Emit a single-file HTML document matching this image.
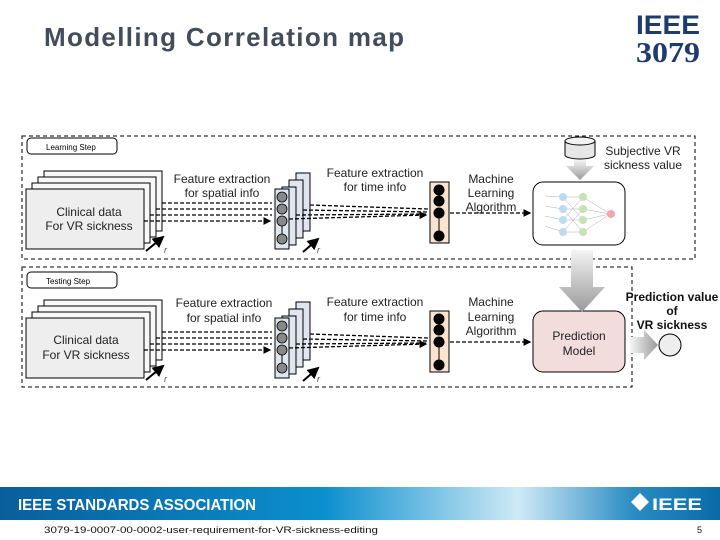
<!DOCTYPE html>
<html><head><meta charset="utf-8"><style>
html,body{margin:0;padding:0;background:#fff;}
svg{display:block;font-family:"Liberation Sans","DejaVu Sans",sans-serif;}
</style></head><body>
<svg width="720" height="540" viewBox="0 0 720 540" xmlns="http://www.w3.org/2000/svg">
<defs>
<linearGradient id="ban" x1="0" x2="1" y1="0" y2="0">
<stop offset="0" stop-color="#0a5e9c"/><stop offset="0.45" stop-color="#0b8fce"/><stop offset="0.72" stop-color="#cfeaf6"/><stop offset="0.88" stop-color="#2a8cc4"/><stop offset="1" stop-color="#0a6aa8"/>
</linearGradient>
<linearGradient id="gd" x1="0" x2="0" y1="0" y2="1"><stop offset="0" stop-color="#f4f4f4"/><stop offset="1" stop-color="#9a9a9a"/></linearGradient>
<linearGradient id="gr" x1="0" x2="1" y1="0" y2="0"><stop offset="0" stop-color="#f4f4f4"/><stop offset="1" stop-color="#9a9a9a"/></linearGradient>
<marker id="ah" markerWidth="6" markerHeight="6" refX="5" refY="3" orient="auto"><path d="M0,0 L6,3 L0,6z" fill="#000"/></marker>
<g id="row">
  <!-- clinical stack -->
  <rect x="44" y="171" width="118" height="60" fill="#f8f8f8" stroke="#000" stroke-width="1"/>
  <rect x="38" y="177" width="118" height="60" fill="#f8f8f8" stroke="#000" stroke-width="1"/>
  <rect x="32" y="183" width="118" height="60" fill="#f8f8f8" stroke="#000" stroke-width="1"/>
  <rect x="26" y="189" width="118" height="60" fill="#eeeeee" stroke="#000" stroke-width="1"/>
  <line x1="146" y1="251" x2="163" y2="237" stroke="#000" stroke-width="2" marker-end="url(#ah)"/>
  <text x="164" y="253" font-size="9" font-style="italic" fill="#555">r</text>
  <!-- dashed arrows -->
  <g stroke="#000" stroke-width="1.3" stroke-dasharray="4,2" fill="none">
    <line x1="162" y1="203" x2="272" y2="203"/>
    <line x1="156" y1="209" x2="272" y2="209"/>
    <line x1="150" y1="215" x2="272" y2="215"/>
    <line x1="144" y1="221" x2="270" y2="221" marker-end="url(#ah)"/>
  </g>
  <!-- middle stack -->
  <rect x="296" y="173" width="14" height="58" fill="#dfe6f0" stroke="#000"/>
  <rect x="289" y="180" width="14" height="58" fill="#dfe6f0" stroke="#000"/>
  <rect x="282" y="187" width="14" height="58" fill="#dfe6f0" stroke="#000"/>
  <rect x="275" y="189" width="14" height="60" fill="#dfe6f0" stroke="#000"/>
  <line x1="282" y1="222" x2="282" y2="238" stroke="#000"/>
  <g fill="#888" stroke="#000" stroke-width="0.8">
    <circle cx="282" cy="197" r="5"/><circle cx="282" cy="209" r="5"/><circle cx="282" cy="221" r="5"/><circle cx="282" cy="239" r="5"/>
  </g>
  <line x1="303" y1="252" x2="318" y2="239" stroke="#000" stroke-width="2" marker-end="url(#ah)"/>
  <text x="317" y="253" font-size="9" font-style="italic" fill="#555">r</text>
  <g stroke="#000" stroke-width="1.3" stroke-dasharray="4,2" fill="none">
    <line x1="310" y1="205" x2="428" y2="209"/>
    <line x1="303" y1="210" x2="428" y2="212"/>
    <line x1="296" y1="215" x2="428" y2="214"/>
    <line x1="289" y1="219" x2="426" y2="215" marker-end="url(#ah)"/>
  </g>
  <!-- orange column -->
  <rect x="430" y="182" width="19" height="61" fill="#fbe3cf" stroke="#000"/>
  <line x1="439" y1="213" x2="439" y2="236" stroke="#000"/>
  <g fill="#000"><circle cx="439" cy="190" r="5.5"/><circle cx="439" cy="201" r="5.5"/><circle cx="439" cy="213" r="5.5"/><circle cx="439" cy="236" r="5.5"/></g>
  <line x1="450" y1="213" x2="530" y2="213" stroke="#000" stroke-width="1.3" stroke-dasharray="4,2" marker-end="url(#ah)"/>
</g>
</defs>

<!-- title -->
<text x="44" y="46" font-size="26" font-weight="bold" fill="#434c5a" textLength="360">Modelling Correlation map</text>
<text x="668" y="34" font-size="27" font-weight="bold" fill="#1d3c6e" text-anchor="middle" textLength="64" lengthAdjust="spacingAndGlyphs">IEEE</text>
<text x="668" y="62" font-size="28" font-weight="bold" font-family="Liberation Serif,serif" fill="#1d3c6e" text-anchor="middle" textLength="64" lengthAdjust="spacingAndGlyphs">3079</text>

<!-- learning -->
<rect x="22" y="136" width="673" height="123" fill="none" stroke="#000" stroke-dasharray="4,3"/>
<rect x="27" y="138" width="90" height="16" rx="4" fill="#fff" stroke="#000"/>
<text x="46" y="150" font-size="8" fill="#000">Learning Step</text>
<use href="#row"/>
<g font-size="12" fill="#222" text-anchor="middle">
<text x="89" y="216">Clinical data</text><text x="89" y="230">For VR sickness</text>
<text x="222" y="183">Feature extraction</text><text x="222" y="197">for spatial info</text>
<text x="375" y="177">Feature extraction</text><text x="375" y="191">for time info</text>
<text x="491" y="183">Machine</text><text x="491" y="197">Learning</text><text x="491" y="211">Algorithm</text>
<text x="643" y="155">Subjective VR</text><text x="643" y="169">sickness value</text>
</g>
<!-- NN box -->
<rect x="533" y="182" width="92" height="63" rx="10" fill="#fff" stroke="#000"/>
<g stroke="#999" stroke-width="0.4">
<path d="M545,196 L563,197 M545,206 L563,209 M545,216 L563,220 M545,226 L563,232 M563,197 L583,197 M563,197 L583,220 M563,209 L583,209 M563,209 L583,232 M563,220 L583,197 M563,220 L583,220 M563,232 L583,209 M563,232 L583,232 M583,197 L610,214 M583,209 L610,214 M583,220 L610,214 M583,232 L610,214"/>
</g>
<g fill="#bcdcf2"><circle cx="563" cy="197" r="4"/><circle cx="563" cy="209" r="4"/><circle cx="563" cy="220" r="4"/><circle cx="563" cy="232" r="4"/></g>
<g fill="#c5e3b5"><circle cx="583" cy="197" r="4"/><circle cx="583" cy="209" r="4"/><circle cx="583" cy="220" r="4"/><circle cx="583" cy="232" r="4"/></g>
<circle cx="611" cy="214" r="4" fill="#f2a8a8"/>
<!-- cylinder -->
<path d="M565,141 L565,155 A15,4 0 0 0 595,155 L595,141" fill="#e6e6e6" stroke="#000"/>
<ellipse cx="580" cy="141" rx="15" ry="4" fill="#f2f2f2" stroke="#000"/>
<path d="M574,160 L586,160 L586,166 L594,166 L580,180 L566,166 L574,166Z" fill="url(#gd)"/>

<!-- testing -->
<rect x="22" y="267" width="610" height="120" fill="none" stroke="#000" stroke-dasharray="4,3"/>
<rect x="27" y="272" width="90" height="16" rx="4" fill="#fff" stroke="#000"/>
<text x="46" y="284" font-size="8" fill="#000">Testing Step</text>
<use href="#row" transform="translate(0,129)"/>
<g font-size="12" fill="#222" text-anchor="middle">
<text x="86" y="344">Clinical data</text><text x="86" y="359">For VR sickness</text>
<text x="224" y="307">Feature extraction</text><text x="224" y="322">for spatial info</text>
<text x="375" y="306">Feature extraction</text><text x="375" y="321">for time info</text>
<text x="491" y="306">Machine</text><text x="491" y="321">Learning</text><text x="491" y="335">Algorithm</text>
<text x="579" y="340">Prediction</text><text x="579" y="355">Model</text>
</g>
<rect x="533" y="311" width="92" height="61" rx="10" fill="#f3dcdc" stroke="#000" transform="translate(0,0)"/>
<g font-size="12" fill="#222" text-anchor="middle"><text x="579" y="340">Prediction</text><text x="579" y="355">Model</text></g>
<!-- big arrow down -->
<path d="M571,250 L593,250 L593,287 L605,287 L582,312 L559,287 L571,287Z" fill="url(#gd)"/>
<!-- arrow right -->
<path d="M630,337 L644,337 L644,330 L658,345 L644,360 L644,353 L630,353Z" fill="url(#gr)"/>
<circle cx="670" cy="345" r="11" fill="#eee" stroke="#000"/>
<g font-size="12" font-weight="bold" fill="#111" text-anchor="middle">
<text x="672" y="301">Prediction value</text><text x="672" y="315">of</text><text x="672" y="329">VR sickness</text>
</g>

<!-- banner -->
<rect x="0" y="487" width="720" height="33" fill="url(#ban)"/>
<text x="18" y="510" font-size="16" font-weight="bold" fill="#fff" textLength="238" lengthAdjust="spacingAndGlyphs">IEEE STANDARDS ASSOCIATION</text>
<path d="M640,493 L649,502 L640,511 L631,502Z" fill="#fff"/>
<text x="652" y="510" font-size="17" font-weight="bold" fill="#fff" textLength="50" lengthAdjust="spacingAndGlyphs">IEEE</text>
<text x="44" y="533" font-size="9" fill="#111" textLength="334" lengthAdjust="spacingAndGlyphs">3079-19-0007-00-0002-user-requirement-for-VR-sickness-editing</text>
<text x="697" y="533" font-size="9" fill="#111">5</text>
</svg>
</body></html>
